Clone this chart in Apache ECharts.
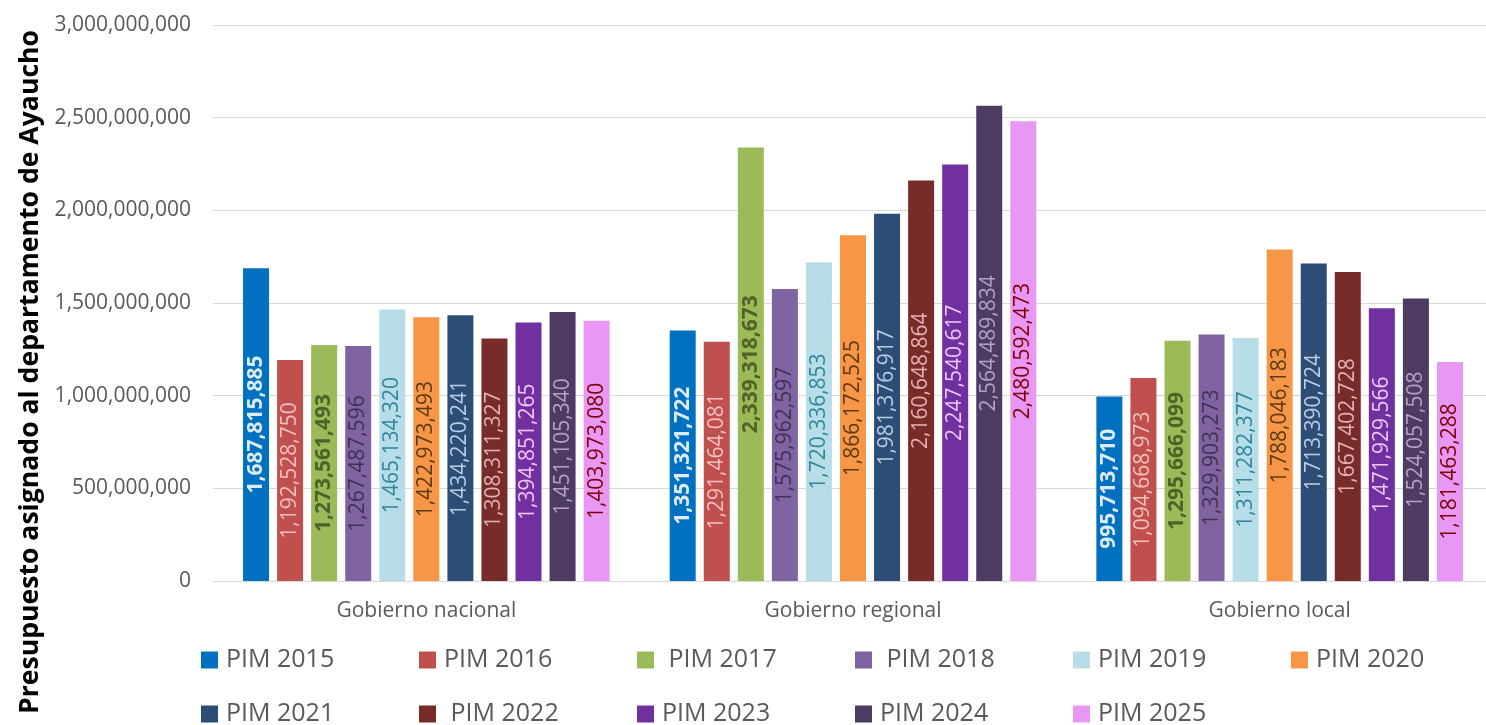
<!DOCTYPE html>
<html lang="es">
<head>
<meta charset="UTF-8">
<title>PIM Ayacucho</title>
<script src="https://cdn.jsdelivr.net/npm/echarts@6/dist/echarts.min.js"></script>
<style>
  html, body { margin: 0; padding: 0; background: #fff; }
  #chart { width: 1486px; height: 725px; }
</style>
</head>
<body>
<div id="chart"></div>
<script>
var categorias = ['Gobierno nacional', 'Gobierno regional', 'Gobierno local'];
var nombres = ['PIM 2015', 'PIM 2016', ' PIM 2017', ' PIM 2018', 'PIM 2019', 'PIM 2020',
               'PIM 2021', ' PIM 2022', 'PIM 2023', 'PIM 2024', 'PIM 2025'];
var pim2015 = [1687815885, 1351321722, 995713710];
var pim2016 = [1192528750, 1291464081, 1094668973];
var pim2017 = [1273561493, 2339318673, 1295666099];
var pim2018 = [1267487596, 1575962597, 1329903273];
var pim2019 = [1465134320, 1720336853, 1311282377];
var pim2020 = [1422973493, 1866172525, 1788046183];
var pim2021 = [1434220241, 1981376917, 1713390724];
var pim2022 = [1308311327, 2160648864, 1667402728];
var pim2023 = [1394851265, 2247540617, 1471929566];
var pim2024 = [1451105340, 2564489834, 1524057508];
var pim2025 = [1403973080, 2480592473, 1181463288];
var valores = [pim2015, pim2016, pim2017, pim2018, pim2019, pim2020,
               pim2021, pim2022, pim2023, pim2024, pim2025];

var colores = ['#0070C0', '#C0504D', '#9BBB59', '#8064A2', '#B7DEE8', '#F79646',
               '#2C4D75', '#772C2A', '#7030A0', '#4D3B62', '#E897F5'];
var coloresEtiqueta = ['#DDEBF7', '#F2C0BF', '#4F6228', '#403151', '#31859C', '#5E3A14',
                       '#B9CDE5', '#E6B0AF', '#F2C4F9', '#B3A2C7', '#7F0000'];
var negrita = [true, false, true, false, false, false, false, false, false, false, false];

function miles(v) {
    return String(v).replace(/\B(?=(\d{3})+(?!\d))/g, ',');
}

var myChart = echarts.init(document.getElementById('chart'));

var series = valores.map(function (d, i) {
    return {
        name: nombres[i],
        type: 'bar',
        data: d,
        barWidth: 26,
        barGap: '31%',
        itemStyle: { color: colores[i] },
        label: {
            show: true,
            position: 'inside',
            rotate: 90,
            color: coloresEtiqueta[i],
            fontFamily: 'Open Sans',
            fontSize: 21,
            fontWeight: negrita[i] ? 'bold' : 'normal',
            formatter: function (p) { return miles(p.value); }
        }
    };
});

myChart.setOption({
    animation: false,
    color: colores,
    grid: { left: 213, top: 25, width: 1280, height: 556, outerBoundsMode: 'none' },
    legend: {
        left: 201,
        top: 643,
        padding: 0,
        width: 1300,
        itemWidth: 17,
        itemHeight: 17,
        itemGap: 20,
        icon: 'rect',
        data: nombres,
        textStyle: {
            color: '#595959',
            fontFamily: 'Open Sans',
            fontSize: 25,
            width: 173,
            lineHeight: 34,
            padding: [0, 0, 0, 3]
        }
    },
    xAxis: {
        type: 'category',
        data: categorias,
        axisLine: { lineStyle: { color: '#D9D9D9', width: 1 } },
        axisTick: { show: false },
        axisLabel: { color: '#595959', fontFamily: 'Open Sans', fontSize: 21, margin: 20 }
    },
    yAxis: {
        type: 'value',
        min: 0,
        max: 3000000000,
        interval: 500000000,
        axisLine: { show: false },
        axisTick: { show: false },
        splitLine: { lineStyle: { color: '#D9D9D9', width: 1 } },
        axisLabel: {
            color: '#595959',
            fontFamily: 'Open Sans',
            fontSize: 21,
            margin: 22,
            formatter: function (v) { return miles(v); }
        }
    },
    graphic: [{
        type: 'text',
        x: 30,
        y: 372,
        rotation: Math.PI / 2,
        style: {
            text: 'Presupuesto asignado al departamento de Ayaucho',
            textAlign: 'center',
            textVerticalAlign: 'middle',
            fill: '#000',
            font: 'bold 26.6px "Open Sans"'
        }
    }],
    series: series
});
</script>
</body>
</html>
